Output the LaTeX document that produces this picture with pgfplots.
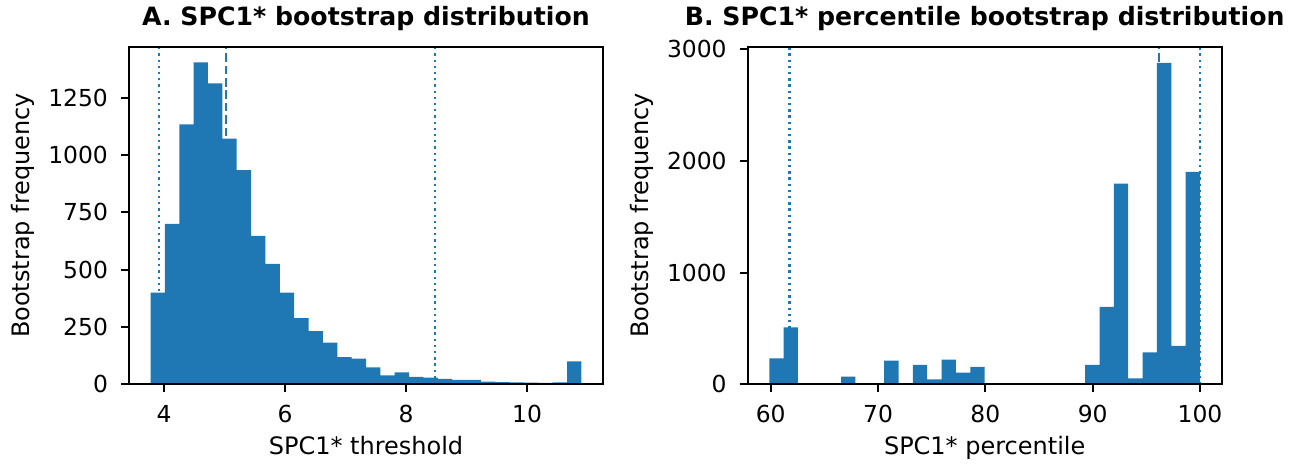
\documentclass[border=0pt]{standalone}
\usepackage{fontspec}
\setmainfont{DejaVu Sans}
\usepackage{pgfplots}
\pgfplotsset{compat=1.18}
\definecolor{mplblue}{HTML}{1F77B4}
\pgfplotsset{
 myax/.style={
  scale only axis, width=237pt, height=168.8pt,
  axis line style={line width=0.95pt},
  tick style={line width=0.95pt, black},
  tick align=outside, major tick length=4pt,
  xtick pos=bottom, ytick pos=left,
  ymin=0,
  scaled y ticks=false, scaled x ticks=false,
  /pgf/number format/1000 sep={},
  /pgf/number format/assume math mode=true,
  tick label style={font=\fontsize{11.7}{14}\selectfont, inner sep=0pt},
  xticklabel style={anchor=north, yshift=-6.35pt},
  yticklabel style={anchor=east, xshift=-6.35pt},
  every axis x label/.style={at={(axis description cs:0.5,-0.2094)}, anchor=base, font=\fontsize{12}{14}\selectfont},
  every axis y label/.style={at={(axis description cs:-0.2236,0.5)}, anchor=center, rotate=90, font=\fontsize{12}{14}\selectfont},
  title style={font=\bfseries\fontsize{12.6}{15}\selectfont, at={(axis description cs:0.5,1)}, anchor=base, yshift=4.6pt},
  axis on top,
 },
 dotline/.style={mplblue, line width=1.17pt, line cap=butt, dash pattern=on 1.17pt off 1.93pt},
 dashline/.style={mplblue, line width=1.17pt, line cap=butt, dash pattern=on 4.33pt off 1.87pt},
}
\begin{document}
\begin{tikzpicture}
\useasboundingbox (-64.5pt,-40.85pt) rectangle (585.5pt,192.15pt);
\begin{axis}[myax, at={(0pt,0pt)}, anchor=south west,
  xmin=3.419, xmax=11.256, ymax=1473,
  xtick={4,6,8,10}, ytick={0,250,500,750,1000,1250},
  title={A. SPC1* bootstrap distribution},
  xlabel={SPC1* threshold}, ylabel={Bootstrap frequency}]
\addplot[dotline] coordinates {(3.917,0) (3.917,1473)};
\addplot[dashline] coordinates {(5.025,0) (5.025,1473)};
\addplot[dotline] coordinates {(8.474,0) (8.474,1473)};
\addplot[const plot, fill=mplblue, draw=none] coordinates {
(3.775,400) (4.0125,700) (4.25,1134) (4.4875,1405) (4.725,1313)
(4.9625,1072) (5.2,935) (5.4375,648) (5.675,525) (5.9125,400)
(6.15,289) (6.3875,232) (6.625,182) (6.8625,119) (7.1,112)
(7.3375,74) (7.575,39) (7.8125,52) (8.05,32) (8.2875,29)
(8.525,24) (8.7625,19) (9.0,19) (9.2375,12) (9.475,10)
(9.7125,8) (9.95,7) (10.1875,6) (10.425,8) (10.6625,100)
(10.9,100)} \closedcycle;
\end{axis}
\begin{axis}[myax, at={(309.35pt,0pt)}, anchor=south west,
  xmin=57.86, xmax=102.02, ymax=3024,
  xtick={60,70,80,90,100}, ytick={0,1000,2000,3000},
  title={B. SPC1* percentile bootstrap distribution},
  xlabel={SPC1* percentile}, ylabel={Bootstrap frequency}]
\addplot[dotline] coordinates {(61.74,0) (61.74,3024)};
\addplot[dashline] coordinates {(96.2,0) (96.2,3024)};
\addplot[dotline] coordinates {(100,0) (100,3024)};
\addplot[const plot, fill=mplblue, draw=none] coordinates {
(59.87,232) (61.208,510) (62.545,0) (63.883,0) (65.221,0)
(66.558,68) (67.896,0) (69.234,0) (70.572,211) (71.909,0)
(73.247,173) (74.585,45) (75.922,222) (77.26,104) (78.598,157)
(79.935,0) (81.273,0) (82.611,0) (83.949,0) (85.286,0)
(86.624,0) (87.962,0) (89.299,173) (90.637,694) (91.975,1798)
(93.312,54) (94.65,286) (95.988,2880) (97.326,345) (98.663,1902)
(100.0,1902)} \closedcycle;
\end{axis}
\end{tikzpicture}
\end{document}
